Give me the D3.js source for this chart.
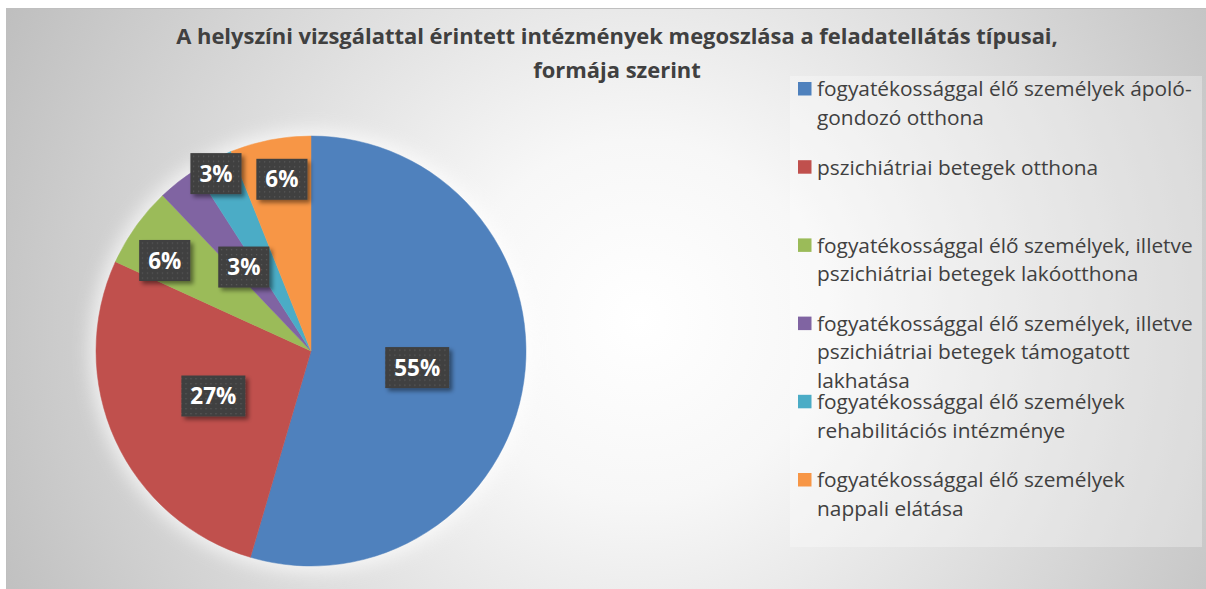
<!DOCTYPE html>
<html>
<head>
<meta charset="utf-8">
<script src="https://cdn.jsdelivr.net/npm/d3@7"></script>
<style>
  html, body { margin: 0; padding: 0; background: #ffffff; }
  svg { display: block; }
</style>
</head>
<body>
<svg id="chart" width="1206" height="589"></svg>
<script>
// ---------- data ----------
const titleLines = [
  "A helyszíni vizsgálattal érintett intézmények megoszlása a feladatellátás típusai,",
  "formája szerint"
];
const categories = [
  "fogyatékossággal élő személyek ápoló-gondozó otthona",
  "pszichiátriai betegek otthona",
  "fogyatékossággal élő személyek, illetve pszichiátriai betegek lakóotthona",
  "fogyatékossággal élő személyek, illetve pszichiátriai betegek támogatott lakhatása",
  "fogyatékossággal élő személyek rehabilitációs intézménye",
  "fogyatékossággal élő személyek nappali elátása"
];
const values = [18, 9, 2, 1, 1, 2];
const legendLines = [
  ["fogyatékossággal élő személyek ápoló-", "gondozó otthona"],
  ["pszichiátriai betegek otthona"],
  ["fogyatékossággal élő személyek, illetve", "pszichiátriai betegek lakóotthona"],
  ["fogyatékossággal élő személyek, illetve", "pszichiátriai betegek támogatott", "lakhatása"],
  ["fogyatékossággal élő személyek", "rehabilitációs intézménye"],
  ["fogyatékossággal élő személyek", "nappali elátása"]
];
const colors = ["#4f81bd", "#c0504d", "#9bbb59", "#8064a2", "#4bacc6", "#f79646"];

// ---------- layout (not data) ----------
const W = 1206, H = 589;
const cx = 311, cy = 351, R = 215;
// label placement (Excel "best fit"): radius factor & angle offset (degrees)
const labelPlacement = [[0.5, 0.7], [0.5, -0.2], [0.80, -3.7], [0.936, 10], [0.50, -11.4], [0.81, 1.3]];

const svg = d3.select("#chart");
const defs = svg.append("defs");

const bg = defs.append("radialGradient").attr("id", "bgGrad")
  .attr("gradientUnits", "userSpaceOnUse")
  .attr("cx", 640).attr("cy", 320).attr("r", 720);
bg.append("stop").attr("offset", "0").attr("stop-color", "#ffffff");
bg.append("stop").attr("offset", "0.25").attr("stop-color", "#f7f7f7");
bg.append("stop").attr("offset", "1").attr("stop-color", "#bdbdbd");

const pat = defs.append("pattern").attr("id", "dots")
  .attr("patternUnits", "userSpaceOnUse").attr("width", 5).attr("height", 5);
pat.append("rect").attr("width", 5).attr("height", 5).attr("fill", "#3f3f3f");
pat.append("rect").attr("x", 2).attr("y", 2).attr("width", 1.3).attr("height", 1.3).attr("fill", "#5a5a5a");

const sh = defs.append("filter").attr("id", "shadow")
  .attr("x", "-30%").attr("y", "-30%").attr("width", "170%").attr("height", "170%");
sh.append("feDropShadow").attr("dx", 3).attr("dy", 3).attr("stdDeviation", 2.2)
  .attr("flood-color", "#000").attr("flood-opacity", 0.45);

const glow = defs.append("filter").attr("id", "glow")
  .attr("x", "-20%").attr("y", "-20%").attr("width", "140%").attr("height", "140%");
glow.append("feGaussianBlur").attr("stdDeviation", 9);

// background and frame
svg.append("rect").attr("x", 6.5).attr("y", 8.5).attr("width", W).attr("height", H)
  .attr("fill", "url(#bgGrad)").attr("stroke", "#bfbfbf").attr("stroke-width", 1);

// title
const titleG = svg.append("g");
const titleText = titleG.selectAll("text").data(titleLines).join("text")
  .attr("x", 617).attr("y", (d, i) => 44 + i * 34)
  .attr("text-anchor", "middle")
  .attr("font-family", "'Open Sans', 'Noto Sans', sans-serif")
  .attr("font-weight", "bold").attr("font-size", 20)
  .attr("fill", "#404040")
  .text(d => d);
{
  const w = titleText.nodes()[0].getComputedTextLength();
  const fs = 20 * 882 / w;
  titleText.attr("font-size", fs);
}

// pie glow
svg.append("circle").attr("cx", cx).attr("cy", cy).attr("r", R + 6)
  .attr("fill", "#ffffff").attr("opacity", 0.7).attr("filter", "url(#glow)");

// pie
const pie = d3.pie().sort(null).value(d => d);
const arcs = pie(values);
const arc = d3.arc().innerRadius(0).outerRadius(R);
const total = d3.sum(values);
const fmt = d3.format(".0%");

const pieG = svg.append("g").attr("transform", `translate(${cx},${cy})`);
pieG.selectAll("path").data(arcs).join("path")
  .attr("d", arc)
  .attr("fill", (d, i) => colors[i])
  .attr("stroke", (d, i) => colors[i]).attr("stroke-width", 0.5);

// data labels
const labG = pieG.append("g");
arcs.forEach((d, i) => {
  const [rf, off] = labelPlacement[i];
  const a = (d.startAngle + d.endAngle) / 2 + off * Math.PI / 180;
  const x = Math.sin(a) * R * rf, y = -Math.cos(a) * R * rf;
  const g = labG.append("g").attr("transform", `translate(${x},${y})`);
  const t = g.append("text")
    .attr("text-anchor", "middle").attr("dy", "0.36em")
    .attr("font-family", "'Open Sans', 'Noto Sans', sans-serif")
    .attr("font-weight", "bold").attr("font-size", 22.5)
    .attr("fill", "#ffffff")
    .text(fmt(d.data / total));
  const tw = t.node().getComputedTextLength();
  const bw = tw + 18, bh = 41;
  g.insert("rect", "text")
    .attr("x", -bw / 2).attr("y", -bh / 2).attr("width", bw).attr("height", bh)
    .attr("fill", "url(#dots)").attr("filter", "url(#shadow)");
});

// legend
svg.append("rect").attr("x", 790).attr("y", 76).attr("width", 412).attr("height", 471)
  .attr("fill", "#ffffff").attr("opacity", 0.3);

const ly = d3.scaleLinear().domain([0, categories.length - 1]).range([82, 473]);
const legG = svg.append("g");
const items = legG.selectAll("g").data(categories).join("g")
  .attr("transform", (d, i) => `translate(798,${ly(i)})`);
items.append("rect").attr("width", 13.5).attr("height", 13.5)
  .attr("fill", (d, i) => colors[i]);
const legTexts = items.append("text")
  .attr("x", 19)
  .attr("font-family", "'Open Sans', 'Noto Sans', sans-serif")
  .attr("font-size", 18)
  .attr("fill", "#404040");
legTexts.selectAll("tspan").data((d, i) => legendLines[i]).join("tspan")
  .attr("x", 19).attr("y", (d, j) => 14.3 + j * 28.5)
  .text(d => d);
{
  const first = legTexts.nodes()[0].querySelector("tspan");
  const w = first.getComputedTextLength();
  legTexts.attr("font-size", 18 * 375 / w);
}
</script>
</body>
</html>
